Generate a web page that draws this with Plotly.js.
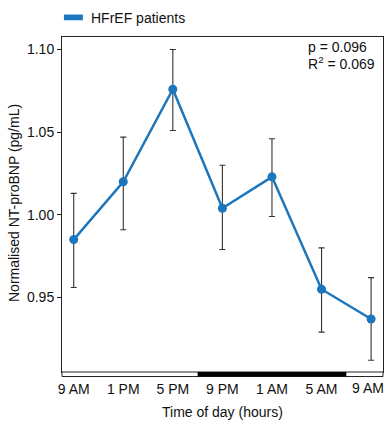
<!DOCTYPE html>
<html>
<head>
<meta charset="utf-8">
<script src="https://cdn.plot.ly/plotly-3.0.1.min.js"></script>
<style>html,body{margin:0;padding:0;background:#fff;}#chart{width:385px;height:428px;}</style>
</head>
<body>
<div id="chart"></div>
<script>
const timeLabels = ['9 AM', '1 PM', '5 PM', '9 PM', '1 AM', '5 AM', '9 AM'];
const meanValues = [0.985, 1.020, 1.076, 1.004, 1.023, 0.955, 0.937];
const upperValues = [1.013, 1.047, 1.100, 1.030, 1.046, 0.980, 0.962];
const lowerValues = [0.956, 0.991, 1.051, 0.979, 0.999, 0.929, 0.912];
const yTickVals = [0.95, 1.00, 1.05, 1.10];
const yTickText = ['0.95', '1.00', '1.05', '1.10'];
const seriesName = 'HFrEF patients';
const xTitle = 'Time of day (hours)';
const yTitle = 'Normalised NT-proBNP (pg/mL)';
const pText = 'p = 0.096';
const r2Text = 'R<sup>2</sup> = 0.069';
const nightStart = 2.5, nightEnd = 5.5;

const xIdx = timeLabels.map((_, i) => i);
const lastIdx = xIdx.length - 1;
// last tick label is drawn as an annotation, nudged left to stay inside the page
const tickTextShown = timeLabels.map((t, i) => i === lastIdx ? ' ' : t);
const blue = '#1b76bd';
const font = 'Arial, "Liberation Sans", sans-serif';
const txt = {size: 14, family: font, color: '#111'};

const trace = {
  x: xIdx, y: meanValues, type: 'scatter', mode: 'lines+markers', name: seriesName,
  line: {color: blue, width: 2.5}, marker: {color: blue, size: 9},
  error_y: {type: 'data', symmetric: false,
    array: upperValues.map((u, i) => u - meanValues[i]),
    arrayminus: meanValues.map((m, i) => m - lowerValues[i]),
    color: '#333', thickness: 1.1, width: 3},
  showlegend: false, cliponaxis: false
};

const layout = {
  width: 385, height: 428,
  margin: {l: 62, r: 2, t: 37, b: 56},
  paper_bgcolor: '#fff', plot_bgcolor: '#fff',
  font: txt,
  showlegend: false,
  xaxis: {
    range: [-0.236, 6.24], tickvals: xIdx, ticktext: tickTextShown,
    showgrid: false, zeroline: false, showline: true, mirror: true, linecolor: '#222', linewidth: 1,
    ticks: 'outside', ticklen: 4, tickcolor: 'rgba(0,0,0,0)', tickfont: txt
  },
  yaxis: {
    range: [0.9049, 1.1076], tickvals: yTickVals, ticktext: yTickText,
    showgrid: false, zeroline: false, showline: true, mirror: true, linecolor: '#222', linewidth: 1,
    ticks: 'outside', ticklen: 4, tickcolor: '#222', tickfont: txt
  },
  shapes: [
    {type: 'rect', xref: 'paper', yref: 'paper', x0: 0, x1: 1, y0: -0.0135, y1: 0,
     line: {color: '#222', width: 1}, fillcolor: '#fff'},
    {type: 'rect', xref: 'x', yref: 'paper', x0: nightStart, x1: nightEnd, y0: -0.0135, y1: 0,
     line: {width: 0}, fillcolor: '#000'},
    {type: 'rect', xref: 'paper', yref: 'paper', x0: 0.006, x1: 0.065, y0: 1.05, y1: 1.067,
     line: {width: 0}, fillcolor: blue}
  ],
  annotations: [
    {xref: 'x', yref: 'paper', x: xIdx[lastIdx], y: -0.048, xanchor: 'center', yanchor: 'middle',
     xshift: -3.5, text: timeLabels[lastIdx], showarrow: false, font: txt},
    {xref: 'paper', yref: 'paper', x: 0.085, y: 1.058, xanchor: 'left', yanchor: 'middle',
     text: seriesName, showarrow: false, font: txt},
    {xref: 'paper', yref: 'paper', x: 0.76, y: 0.97, xanchor: 'left', yanchor: 'middle', align: 'left',
     text: pText, showarrow: false, font: txt},
    {xref: 'paper', yref: 'paper', x: 0.76, y: 0.922, xanchor: 'left', yanchor: 'middle', align: 'left',
     text: r2Text, showarrow: false, font: txt},
    {xref: 'paper', yref: 'paper', x: 0.5, y: -0.119, xanchor: 'center', yanchor: 'middle',
     text: xTitle, showarrow: false, font: txt},
    {xref: 'paper', yref: 'paper', x: -0.15, y: 0.504, xanchor: 'center', yanchor: 'middle',
     text: yTitle, textangle: -90, showarrow: false, font: txt}
  ]
};

Plotly.newPlot('chart', [trace], layout, {displayModeBar: false, staticPlot: true});
</script>
</body>
</html>
